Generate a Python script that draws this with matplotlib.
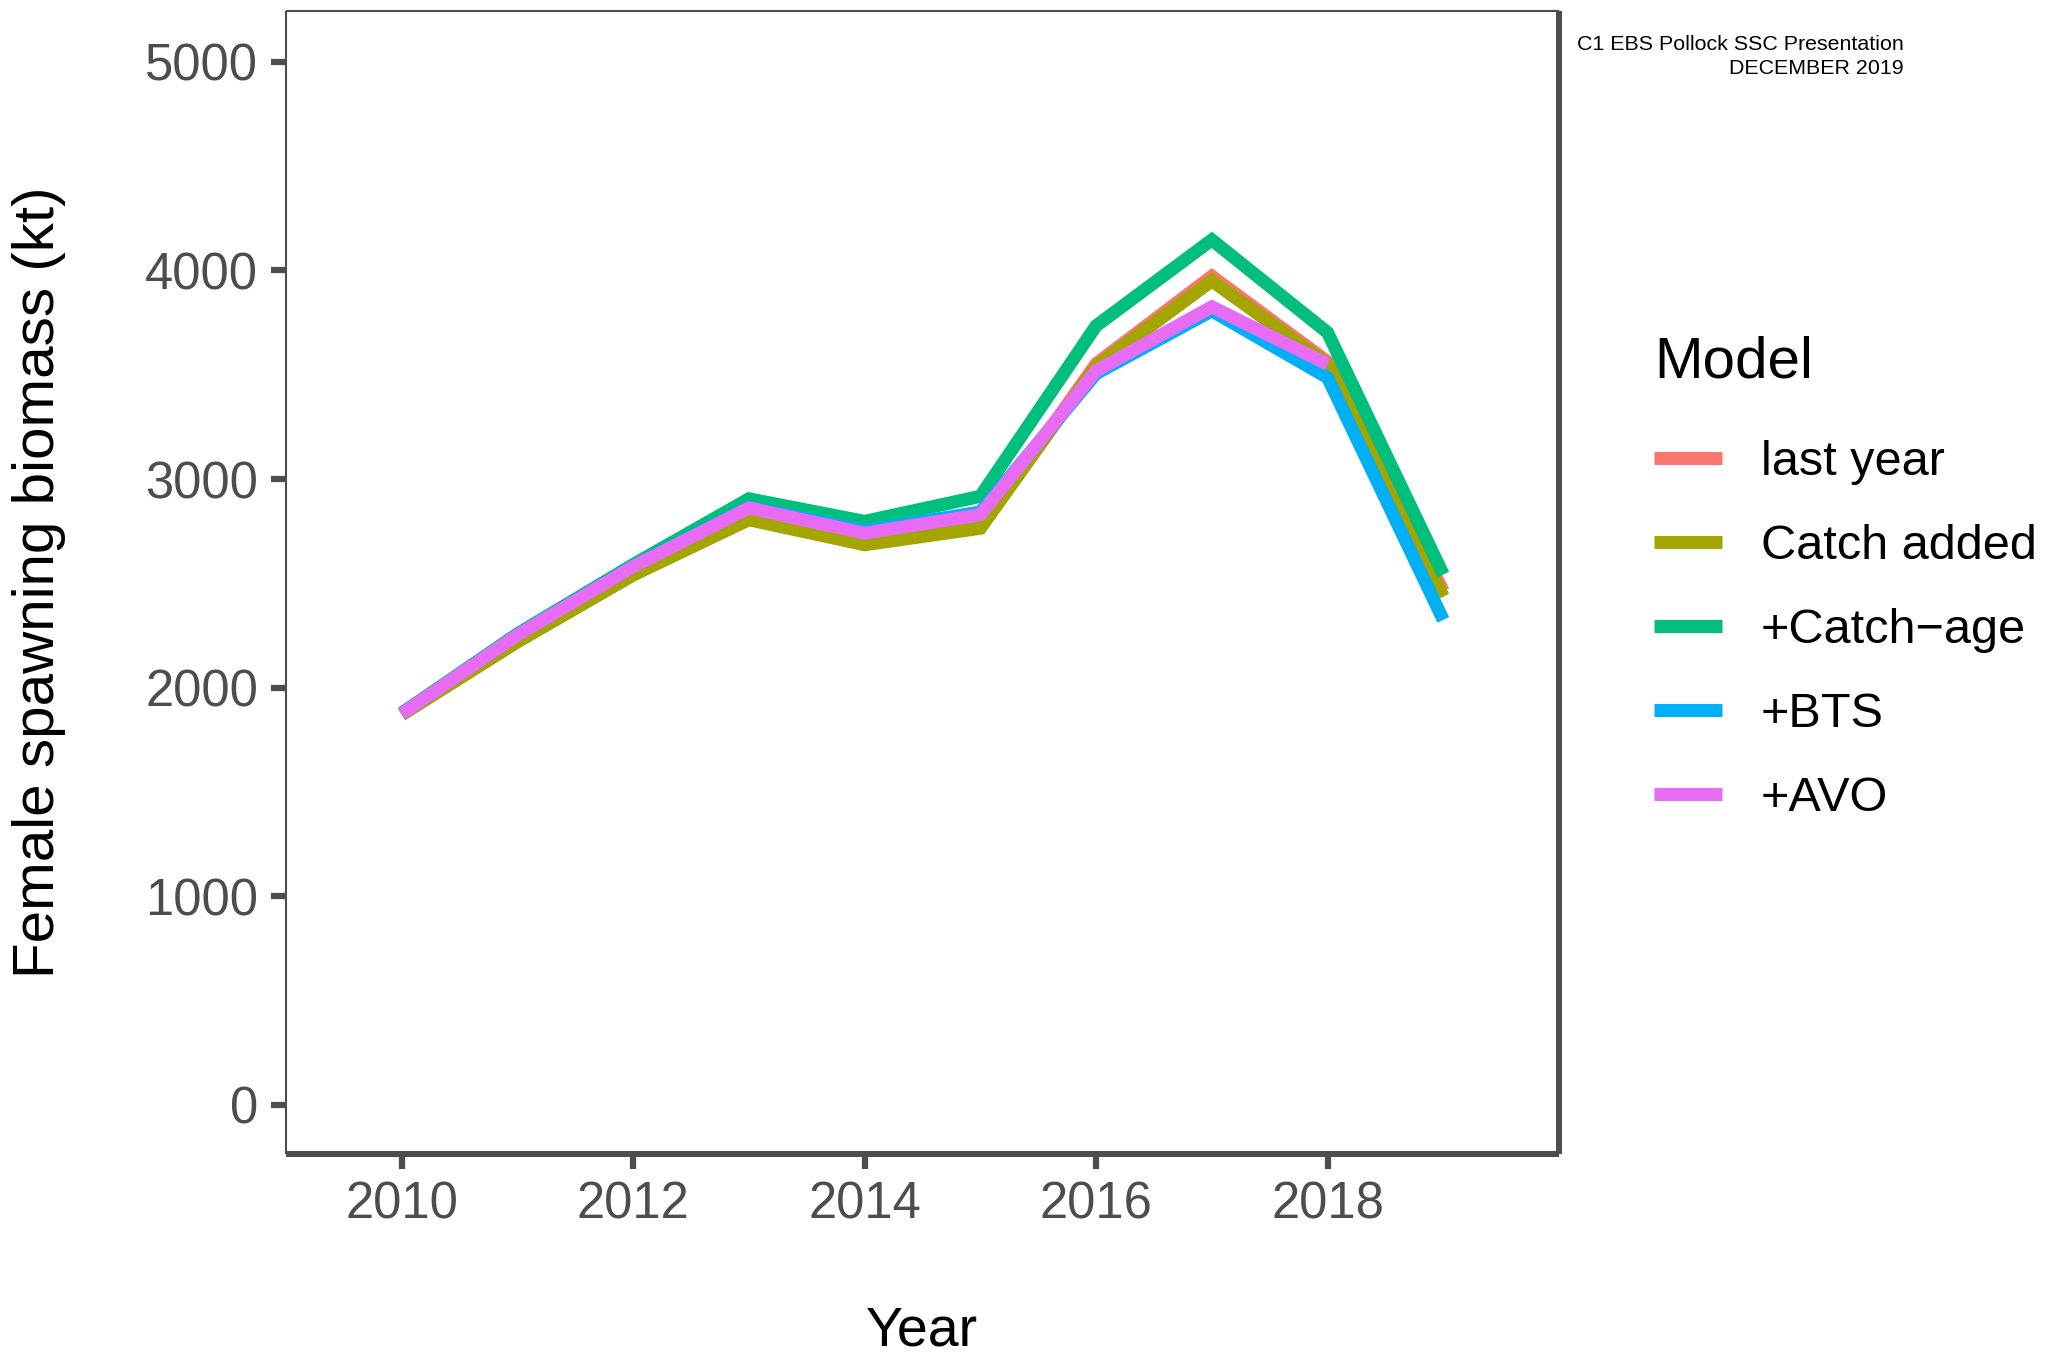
import numpy as np
import matplotlib.pyplot as plt
from matplotlib.lines import Line2D

plt.rcParams['font.family'] = ['Liberation Sans', 'DejaVu Sans']

# female spawning biomass (kt)
years = [2010, 2011, 2012, 2013, 2014, 2015, 2016, 2017, 2018, 2019]
last_year = [1872, 2222, 2542, 2808, 2688, 2768, 3552, 3972, 3562, 2462]
catch_added = [1870, 2220, 2540, 2805, 2685, 2764, 3540, 3950, 3550, 2436]
catch_age = [1878, 2258, 2590, 2905, 2797, 2917, 3734, 4146, 3702, 2542]
bts = [1876, 2254, 2582, 2865, 2752, 2842, 3505, 3806, 3486, 2325]
avo_years = [2010, 2011, 2012, 2013, 2014, 2015, 2016, 2017, 2018]
avo = [1875, 2252, 2580, 2861, 2740, 2829, 3518, 3825, 3550]

models = ['last year', 'Catch added', '+Catch\u2212age', '+BTS', '+AVO']
colors = ['#F8766D', '#A3A500', '#00BF7D', '#00B0F6', '#E76BF3']

fig = plt.figure(figsize=(20.63, 13.54), dpi=100)
ax = fig.add_axes([286/2063, 1-1154/1354, (1559-286)/2063, (1154-11)/1354])

series = [(years, last_year), (years, catch_added), (years, catch_age),
          (years, bts), (avo_years, avo)]
lw = 9.4
for (x, y), col, name in zip(series, colors, models):
    ax.plot(x, y, color=col, lw=lw, solid_joinstyle='miter',
            solid_capstyle='butt', label=name)

ax.set_xlim(2009.0, 2020.0)
ax.set_ylim(-235, 5243)
ax.set_xticks([2010, 2012, 2014, 2016, 2018])
ax.set_yticks([0, 1000, 2000, 3000, 4000, 5000])

grey = '#4D4D4D'
ax.tick_params(axis='both', colors=grey, labelsize=36.5, length=11,
               width=4.5, labelcolor=grey)
ax.tick_params(axis='x', pad=8)
ax.tick_params(axis='y', pad=9)

for side in ['top', 'left']:
    ax.spines[side].set_linewidth(1.5)
    ax.spines[side].set_color(grey)
for side in ['bottom', 'right']:
    ax.spines[side].set_linewidth(4.3)
    ax.spines[side].set_color(grey)
for sp in ax.spines.values():
    sp.set_capstyle('butt')

fig.text(39/2063, 1-582/1354, 'Female spawning biomass (kt)', rotation=90,
         ha='center', va='center', fontsize=42)
fig.text(922/2063, 1-1345/1354, 'Year', ha='center', va='baseline',
         fontsize=40)

handles = [Line2D([], [], color=c, lw=lw, solid_capstyle='butt') for c in colors]
leg = ax.legend(handles, models, title='Model', loc='upper left',
                bbox_to_anchor=(1654/2063, 1-335/1354),
                bbox_transform=fig.transFigure, frameon=False,
                fontsize=35, title_fontsize=42, handlelength=1.4,
                handletextpad=0.8, labelspacing=0.80, borderpad=0,
                borderaxespad=0, alignment='left')
leg._legend_box.sep = 37

fig.text(1904/2063, 1-50/1354, 'C1 EBS Pollock SSC Presentation',
         ha='right', va='baseline', fontsize=15.4)
fig.text(1904/2063, 1-74/1354, 'DECEMBER 2019',
         ha='right', va='baseline', fontsize=15.4)

fig.savefig('out.png', dpi=100)
